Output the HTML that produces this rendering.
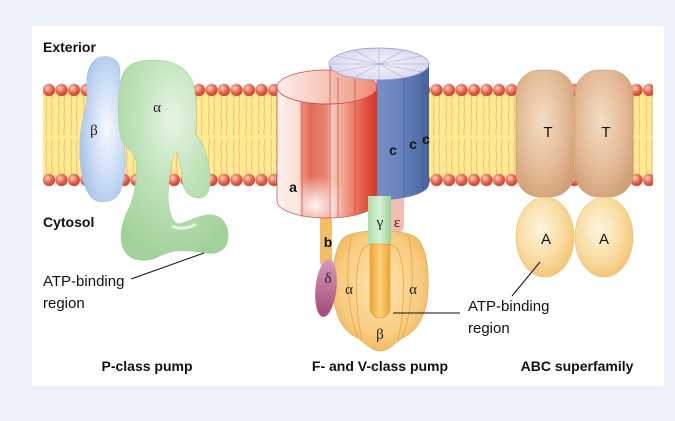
<!DOCTYPE html>
<html><head><meta charset="utf-8"><style>
html,body{margin:0;padding:0;background:#edf1f8;}
svg{display:block;}
.lb{font-family:"Liberation Sans",Arial,sans-serif;font-weight:bold;font-size:14px;fill:#111;}
.rg{font-family:"Liberation Sans",Arial,sans-serif;font-size:15px;fill:#111;}
.gk{font-family:"Liberation Serif","Times New Roman",serif;font-size:15px;fill:#222;}
.sb{font-family:"Liberation Sans",Arial,sans-serif;font-weight:bold;font-size:14px;fill:#111;}
</style></head><body>
<svg width="675" height="421" viewBox="0 0 675 421" xmlns="http://www.w3.org/2000/svg">
<defs>
 <radialGradient id="head" cx="0.38" cy="0.35" r="0.65">
  <stop offset="0" stop-color="#fcd6c0"/>
  <stop offset="0.55" stop-color="#ea6a52"/>
  <stop offset="1" stop-color="#c8402e"/>
 </radialGradient>
 <pattern id="tails" x="42.75" y="94" width="12.5" height="86" patternUnits="userSpaceOnUse">
  <path d="M3.5,0 c1.2,4 -1.2,8 0,13 s-1.2,9 0,14 s-1.2,9 0,14 M9,0 c1.2,4 -1.2,8 0,13 s-1.2,9 0,14 s-1.2,9 0,14 M3.5,86 c-1.2,-4 1.2,-8 0,-13 s1.2,-9 0,-14 s1.2,-9 0,-14 M9,86 c-1.2,-4 1.2,-8 0,-13 s1.2,-9 0,-14 s1.2,-9 0,-14" fill="none" stroke="#ec9a8a" stroke-width="0.6"/>
 </pattern>
 <pattern id="headsT" x="42.75" y="83.75" width="12.5" height="12.5" patternUnits="userSpaceOnUse">
  <circle cx="6.25" cy="6.25" r="6.1" fill="url(#head)"/>
 </pattern>
 <pattern id="headsB" x="42.75" y="173.75" width="12.5" height="12.5" patternUnits="userSpaceOnUse">
  <circle cx="6.25" cy="6.25" r="6.1" fill="url(#head)"/>
 </pattern>
 <radialGradient id="blueG" cx="0.6" cy="0.5" r="0.6">
  <stop offset="0" stop-color="#f6f9fe"/>
  <stop offset="0.6" stop-color="#cadcf4"/>
  <stop offset="1" stop-color="#a9c5ea"/>
 </radialGradient>
 <radialGradient id="greenG" cx="0.5" cy="0.3" r="0.7">
  <stop offset="0" stop-color="#e6f5e2"/>
  <stop offset="0.5" stop-color="#bfe2b9"/>
  <stop offset="1" stop-color="#a2d29a"/>
 </radialGradient>
 <linearGradient id="redBody" gradientUnits="userSpaceOnUse" x1="277" y1="0" x2="377" y2="0">
  <stop offset="0" stop-color="#fff3ef"/>
  <stop offset="0.22" stop-color="#fbdcd0"/>
  <stop offset="0.25" stop-color="#ee9482"/>
  <stop offset="0.33" stop-color="#e06a58"/>
  <stop offset="0.5" stop-color="#ea8672"/>
  <stop offset="0.54" stop-color="#f8cabc"/>
  <stop offset="0.62" stop-color="#f5b4a2"/>
  <stop offset="0.85" stop-color="#e65e4a"/>
  <stop offset="1" stop-color="#d23826"/>
 </linearGradient>
 <radialGradient id="glow" cx="315" cy="205" r="30" gradientUnits="userSpaceOnUse">
  <stop offset="0" stop-color="#ffffff" stop-opacity="0.95"/>
  <stop offset="1" stop-color="#ffffff" stop-opacity="0"/>
 </radialGradient>
 <linearGradient id="redTop" gradientUnits="userSpaceOnUse" x1="277" y1="0" x2="377" y2="0">
  <stop offset="0" stop-color="#fdeee8"/>
  <stop offset="0.5" stop-color="#f6c4b6"/>
  <stop offset="1" stop-color="#ee8a76"/>
 </linearGradient>
 <linearGradient id="blueSide" gradientUnits="userSpaceOnUse" x1="377" y1="0" x2="429" y2="0">
  <stop offset="0" stop-color="#7890c4"/>
  <stop offset="0.5" stop-color="#6482ba"/>
  <stop offset="1" stop-color="#46629c"/>
 </linearGradient>
 <radialGradient id="blueTop" cx="0.5" cy="0.5" r="0.6">
  <stop offset="0" stop-color="#f4f4fb"/>
  <stop offset="1" stop-color="#d6d6ee"/>
 </radialGradient>
 <linearGradient id="gammaG" x1="0" y1="0" x2="1" y2="0">
  <stop offset="0" stop-color="#a8dca8"/>
  <stop offset="0.5" stop-color="#d8f2d6"/>
  <stop offset="1" stop-color="#98d098"/>
 </linearGradient>
 <radialGradient id="bulbG" cx="0.5" cy="0.45" r="0.6">
  <stop offset="0" stop-color="#fde6b0"/>
  <stop offset="0.7" stop-color="#f8cc80"/>
  <stop offset="1" stop-color="#f0b458"/>
 </radialGradient>
 <linearGradient id="stalkG" x1="0" y1="0" x2="1" y2="0">
  <stop offset="0" stop-color="#eea232"/>
  <stop offset="0.5" stop-color="#fcd27a"/>
  <stop offset="1" stop-color="#eea232"/>
 </linearGradient>
 <linearGradient id="deltaG" x1="0" y1="0" x2="0" y2="1">
  <stop offset="0" stop-color="#d898b8"/>
  <stop offset="1" stop-color="#a44a7c"/>
 </linearGradient>
 <radialGradient id="tG" cx="0.45" cy="0.4" r="0.65">
  <stop offset="0" stop-color="#f4dcc2"/>
  <stop offset="0.6" stop-color="#e4bc98"/>
  <stop offset="1" stop-color="#d2a078"/>
 </radialGradient>
 <radialGradient id="aG" cx="0.42" cy="0.4" r="0.65">
  <stop offset="0" stop-color="#fef6de"/>
  <stop offset="0.6" stop-color="#f9dca2"/>
  <stop offset="1" stop-color="#f2c272"/>
 </radialGradient>
 <clipPath id="memClip"><rect x="43" y="80" width="610" height="110"/></clipPath>
</defs>

<rect x="0" y="0" width="675" height="421" fill="#edf1f8"/>
<rect x="32" y="26" width="632" height="360" fill="#ffffff"/>

<!-- membrane -->
<g clip-path="url(#memClip)">
 <rect x="43" y="92" width="610" height="86" fill="#fdeb8e"/>
 <rect x="43" y="94" width="610" height="86" fill="url(#tails)"/>
 <rect x="43" y="83.75" width="610" height="12.5" fill="url(#headsT)"/>
 <rect x="43" y="173.75" width="610" height="12.5" fill="url(#headsB)"/>
</g>

<!-- P-class pump -->
<path d="M100,57 C112,55 120,60 120,72 C120,90 119,105 122,125 C126,150 127,175 120,192 C115,202 100,205 92,198 C82,188 79,165 80,140 C81,120 87,110 87,95 C86,80 86,62 100,57 Z" fill="url(#blueG)" stroke="#a6c2e8" stroke-width="0.6"/>
<path d="M142,61 C170,57 192,66 195,92 C197,112 197,125 195,133 C206,146 211,168 210,184 C209,195 203,199 197,198 C188,197 183,190 182,178 C181,168 180,158 176,151 C171,158 169,175 168,198 C169,212 172,222 178,224 C190,222 200,214 212,215 C222,216 229,225 228,237 C227,250 218,255 206,253 C190,251 175,248 160,256 C148,263 130,262 124,250 C118,238 122,222 128,210 C134,198 138,178 136,160 C134,152 125,148 121,138 C117,120 117,85 124,72 C128,65 134,62 142,61 Z" fill="url(#greenG)" stroke="#a4d09c" stroke-width="0.6"/>
<path d="M172,226 C180,230 190,228 196,224" fill="none" stroke="#f4fbf2" stroke-width="3" opacity="0.8"/>
<text class="gk" x="157" y="112" text-anchor="middle">α</text>
<text class="gk" x="94" y="135" text-anchor="middle">β</text>
<line x1="204" y1="253" x2="131" y2="279" stroke="#111" stroke-width="1"/>

<!-- F/V pump: stalks behind -->
<rect x="320" y="208" width="12" height="58" rx="4" fill="#f4be66"/>
<path d="M390,196 L404,196 L404,224 C404,232 398,235 394,233 C391,231 390,228 390,224 Z" fill="#f2bcb0"/>
<rect x="368" y="196" width="23" height="52" fill="url(#gammaG)"/>

<!-- red cylinder -->
<path d="M277,87 L277,201 A50,17 0 0 0 377,201 L377,87 Z" fill="url(#redBody)"/>
<path d="M277,87 L277,201 A50,17 0 0 0 377,201 L377,87 Z" fill="url(#glow)"/>
<ellipse cx="327" cy="87" rx="50" ry="17" fill="url(#redTop)" stroke="#c84858" stroke-width="0.7"/>

<!-- blue cylinder -->
<ellipse cx="379" cy="64" rx="50" ry="16" fill="url(#blueTop)" stroke="#9494c6" stroke-width="0.7"/>
<g stroke="#a8a8d2" stroke-width="0.6">
 <line x1="379" y1="64" x2="429" y2="64"/>
 <line x1="379" y1="64" x2="422.3" y2="72"/>
 <line x1="379" y1="64" x2="404" y2="77.9"/>
 <line x1="379" y1="64" x2="379" y2="80"/>
 <line x1="379" y1="64" x2="354" y2="77.9"/>
 <line x1="379" y1="64" x2="335.7" y2="72"/>
 <line x1="379" y1="64" x2="329" y2="64"/>
 <line x1="379" y1="64" x2="335.7" y2="56"/>
 <line x1="379" y1="64" x2="354" y2="50.1"/>
 <line x1="379" y1="64" x2="379" y2="48"/>
 <line x1="379" y1="64" x2="404" y2="50.1"/>
 <line x1="379" y1="64" x2="422.3" y2="56"/>
</g>
<path d="M377,80 A50,16 0 0 0 429,64 L429,184 A50,16 0 0 1 377,200 Z" fill="url(#blueSide)"/>
<path d="M377,80 A50,16 0 0 0 429,64" fill="none" stroke="#9494c6" stroke-width="0.7"/>
<g stroke="#3e5890" stroke-width="0.6">
 <line x1="404" y1="78" x2="404" y2="198"/>
 <line x1="423" y1="71.6" x2="423" y2="191.6"/>
</g>

<!-- red outlines over -->
<g fill="none" stroke="#c84858" stroke-width="0.7">
 <path d="M277,87 L277,201 A50,17 0 0 0 377,201"/>
 <path d="M277,87 A50,17 0 0 0 377,87"/>
 <line x1="330" y1="66" x2="330" y2="218"/>
 <line x1="338" y1="77" x2="338" y2="217"/>
 <line x1="355" y1="79" x2="355" y2="215"/>
 <path d="M302,103 L302,217"/>
 <line x1="377" y1="80" x2="377" y2="202"/>
</g>
<text class="sb" x="293" y="192" text-anchor="middle">a</text>
<text class="sb" x="393" y="155" text-anchor="middle">c</text>
<text class="sb" x="413" y="149" text-anchor="middle">c</text>
<text class="sb" x="426" y="144" text-anchor="middle" font-size="13">c</text>

<!-- F1 head -->
<path d="M346,236 C336,242 332,265 333,290 C334,315 343,332 358,338 C366,344 372,351 380,351 C388,351 394,344 402,338 C417,332 427,315 428,290 C429,265 425,242 414,236 C400,229 360,229 346,236 Z" fill="url(#bulbG)" stroke="#e4a848" stroke-width="0.7"/>
<g fill="none" stroke="#e0a040" stroke-width="0.7">
 <path d="M362,340 C355,310 354,268 362,250 C368,240 392,240 398,250 C406,268 405,310 398,340"/>
 <path d="M352,236 C346,255 345,305 358,338"/>
 <path d="M408,236 C414,255 415,305 402,338"/>
</g>
<rect x="368" y="196" width="23" height="50" fill="url(#gammaG)"/>
<path d="M370,244 L390,244 L390,308 A10,10 0 0 1 370,308 Z" fill="url(#stalkG)" stroke="#e09a30" stroke-width="0.6"/>
<ellipse cx="326" cy="288" rx="10.5" ry="29" fill="url(#deltaG)" transform="rotate(6 326 288)"/>

<text class="gk" x="380" y="227" text-anchor="middle" font-size="14">γ</text>
<text class="gk" x="397" y="227" text-anchor="middle" font-size="14">ε</text>
<text class="sb" x="328" y="247" text-anchor="middle">b</text>
<text class="gk" x="328" y="283" text-anchor="middle" font-size="14">δ</text>
<text class="gk" x="349" y="294" text-anchor="middle">α</text>
<text class="gk" x="413" y="294" text-anchor="middle">α</text>
<text class="gk" x="380" y="339" text-anchor="middle">β</text>
<line x1="393" y1="313" x2="460" y2="313" stroke="#111" stroke-width="1"/>

<!-- ABC -->
<rect x="516" y="70" width="58" height="127" rx="24" ry="24" fill="url(#tG)" stroke="#c89670" stroke-width="0.6"/>
<rect x="575" y="70" width="58" height="127" rx="24" ry="24" fill="url(#tG)" stroke="#c89670" stroke-width="0.6"/>
<ellipse cx="545" cy="237" rx="29" ry="40" fill="url(#aG)" stroke="#ecbc70" stroke-width="0.6"/>
<ellipse cx="604" cy="237" rx="29" ry="40" fill="url(#aG)" stroke="#ecbc70" stroke-width="0.6"/>
<text class="rg" x="548" y="137" text-anchor="middle" font-size="14">T</text>
<text class="rg" x="606" y="137" text-anchor="middle" font-size="14">T</text>
<text class="rg" x="546" y="244" text-anchor="middle" font-size="14">A</text>
<text class="rg" x="604" y="244" text-anchor="middle" font-size="14">A</text>
<line x1="540" y1="262" x2="512" y2="296" stroke="#111" stroke-width="1"/>

<!-- labels -->
<text class="lb" x="43" y="52">Exterior</text>
<text class="lb" x="43" y="227">Cytosol</text>
<text class="rg" x="43" y="286">ATP-binding</text>
<text class="rg" x="43" y="308">region</text>
<text class="rg" x="468" y="311">ATP-binding</text>
<text class="rg" x="468" y="333">region</text>
<text class="lb" x="147" y="371" text-anchor="middle">P-class pump</text>
<text class="lb" x="380" y="371" text-anchor="middle">F- and V-class pump</text>
<text class="lb" x="577" y="371" text-anchor="middle">ABC superfamily</text>
</svg>
</body></html>
